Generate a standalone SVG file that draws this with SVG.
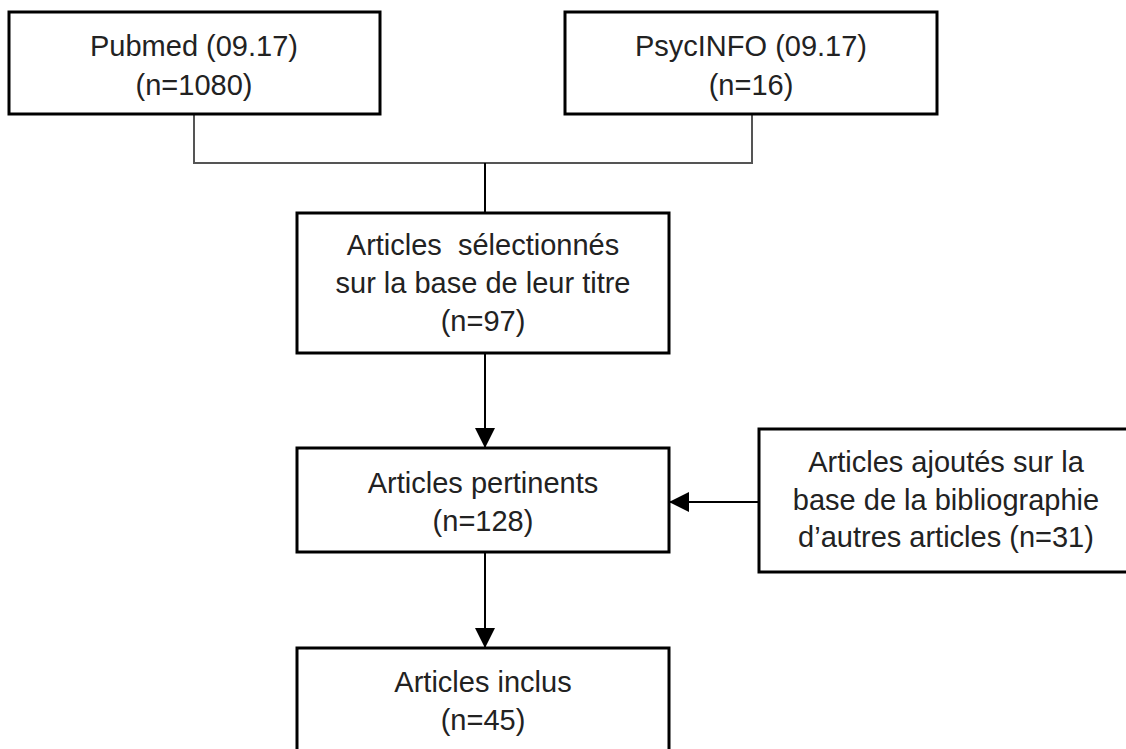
<svg xmlns="http://www.w3.org/2000/svg" width="1126" height="749" viewBox="0 0 1126 749">
<style>
.box{fill:#fff;stroke:#000;stroke-width:3}
.t{font-family:"Liberation Sans",Arial,sans-serif;font-size:29px;fill:#222;text-anchor:middle}
.c{fill:none;stroke:#000;stroke-width:2}
.g{fill:none;stroke:#555;stroke-width:2}
</style>
<defs>
<marker id="ah" viewBox="0 0 10 10" refX="10" refY="5" markerWidth="10" markerHeight="10" markerUnits="userSpaceOnUse" orient="auto">
<path d="M0,0 L10,5 L0,10 Z" fill="#000"/>
</marker>
<marker id="ahb" viewBox="0 0 20 20" refX="20" refY="10" markerWidth="20" markerHeight="20" markerUnits="userSpaceOnUse" orient="auto">
<path d="M0,0 L20,10 L0,20 Z" fill="#000"/>
</marker>
</defs>
<rect width="1126" height="749" fill="#fff"/>
<g id="connectors">
<path class="g" d="M194,114 V163 H752 V114"/>
<path class="c" d="M485,163 V213"/>
<path class="c" d="M485,353 V448" marker-end="url(#ahb)"/>
<path class="c" d="M759,502 H669" marker-end="url(#ahb)"/>
<path class="c" d="M485,552 V648" marker-end="url(#ahb)"/>
</g>
<g id="pubmed">
<rect class="box" x="9" y="12" width="371" height="102"/>
<text class="t" x="194" y="56">Pubmed (09.17)</text>
<text class="t" x="194" y="95">(n=1080)</text>
</g>
<g id="psycinfo">
<rect class="box" x="565" y="12" width="372" height="102"/>
<text class="t" x="751" y="56">PsycINFO (09.17)</text>
<text class="t" x="751" y="95">(n=16)</text>
</g>
<g id="selection">
<rect class="box" x="297" y="213" width="372" height="140"/>
<text class="t" x="483" y="255" xml:space="preserve">Articles  sélectionnés</text>
<text class="t" x="483" y="293">sur la base de leur titre</text>
<text class="t" x="483" y="331">(n=97)</text>
</g>
<g id="pertinents">
<rect class="box" x="297" y="448" width="372" height="104"/>
<text class="t" x="483" y="493">Articles pertinents</text>
<text class="t" x="483" y="531">(n=128)</text>
</g>
<g id="ajoutes">
<rect class="box" x="759" y="429" width="374" height="143"/>
<text class="t" x="946" y="472">Articles ajoutés sur la</text>
<text class="t" x="946" y="510">base de la bibliographie</text>
<text class="t" x="946" y="547">d’autres articles (n=31)</text>
</g>
<g id="inclus">
<rect class="box" x="297" y="648" width="372" height="120"/>
<text class="t" x="483" y="692">Articles inclus</text>
<text class="t" x="483" y="730">(n=45)</text>
</g>
</svg>
